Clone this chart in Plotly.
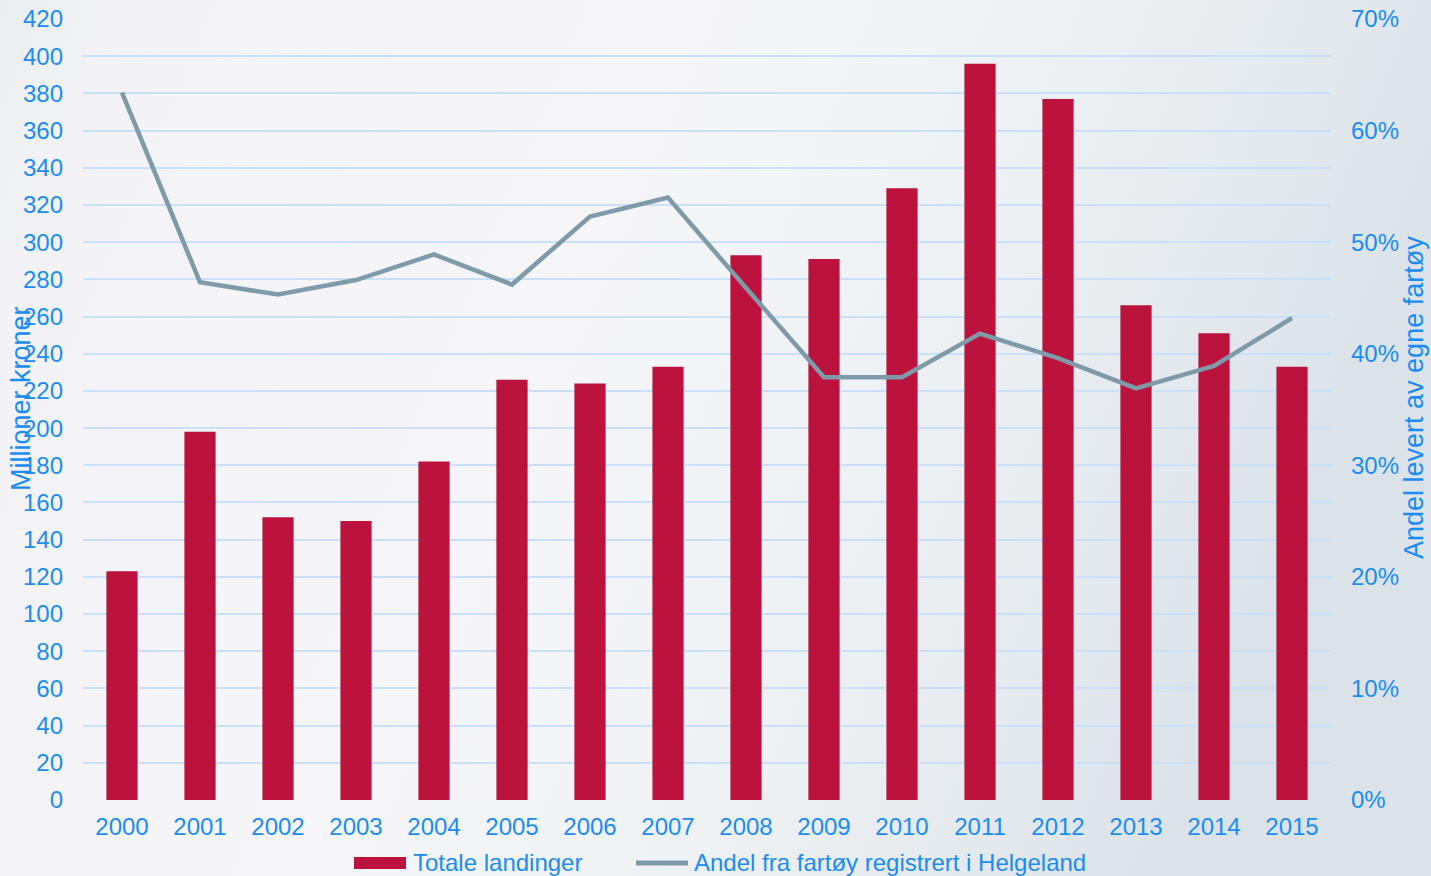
import base64
import plotly.graph_objects as go

years = [str(y) for y in range(2000, 2016)]
totale_landinger = [123, 198, 152, 150, 182, 226, 224, 233, 293, 291, 329, 396, 377, 266, 251, 233]
andel_helgeland = [63.4, 46.4, 45.3, 46.6, 48.9, 46.2, 52.3, 54.0, 45.9, 37.9, 37.9, 41.8, 39.6, 36.9, 38.9, 43.2]

left_ticks = list(range(0, 421, 20))
right_ticks = list(range(0, 71, 10))
right_labels = [f"{v}%" for v in right_ticks]

BLUE = "#1a8cf5"
BAR = "#bb133e"
LINE = "#7f9aa9"
GRID = "#c8e1f8"
FONT = "Liberation Sans, Arial, sans-serif"
FS = 24
TFS = 27

svg = """<svg xmlns='http://www.w3.org/2000/svg' width='1431' height='876' preserveAspectRatio='none'>
<defs><linearGradient id='g' x1='0' y1='0' x2='1' y2='0.25'>
<stop offset='0' stop-color='#eaeef0'/>
<stop offset='0.08' stop-color='#f3f3f7'/>
<stop offset='0.45' stop-color='#f6f6f9'/>
<stop offset='0.7' stop-color='#eef1f4'/>
<stop offset='0.85' stop-color='#e5eaee'/>
<stop offset='1' stop-color='#dbe3e9'/>
</linearGradient></defs>
<rect width='1431' height='876' fill='url(#g)'/></svg>"""
bg_src = "data:image/svg+xml;base64," + base64.b64encode(svg.encode()).decode()

fig = go.Figure()
fig.add_trace(go.Bar(
    x=years, y=totale_landinger, name="Totale landinger",
    marker=dict(color=BAR, line=dict(width=0)), width=0.4,
))
fig.add_trace(go.Scatter(
    x=years, y=andel_helgeland, name="Andel fra fartøy registrert i Helgeland",
    mode="lines", line=dict(color=LINE, width=4.5), yaxis="y2",
))

W, H = 1431, 876
ml, mr, mt, mb = 83, 100, 19, 76
pw, ph = W - ml - mr, H - mt - mb


def px(x):
    return (x - ml) / pw


def py(y):
    return (H - mb - y) / ph


legend_y = 862
shapes = [
    dict(type="rect", xref="paper", yref="paper", x0=px(354), x1=px(406), y0=py(869), y1=py(857),
         fillcolor=BAR, line=dict(width=0)),
    dict(type="line", xref="paper", yref="paper", x0=px(636), x1=px(688), y0=py(legend_y + 1), y1=py(legend_y + 1),
         line=dict(color=LINE, width=5)),
]

fig.update_layout(
    width=W, height=H,
    margin=dict(l=ml, r=mr, t=mt, b=mb, pad=0, autoexpand=False),
    paper_bgcolor="#f3f4f7",
    plot_bgcolor="rgba(0,0,0,0)",
    font=dict(family=FONT, size=FS, color=BLUE),
    showlegend=False,
    bargap=0.6,
    xaxis=dict(showgrid=False, zeroline=False, showline=False, ticks="", automargin=False,
               tickfont=dict(size=FS, color=BLUE), ticklabelstandoff=10),
    yaxis=dict(range=[0, 420], tickvals=left_ticks, showgrid=True, gridcolor=GRID, gridwidth=2,
               zeroline=False, showline=False, ticks="", automargin=False,
               tickfont=dict(size=FS, color=BLUE), ticklabelstandoff=19),
    yaxis2=dict(range=[0, 70], tickvals=right_ticks, ticktext=right_labels, overlaying="y", side="right",
                showgrid=False, zeroline=False, showline=False, ticks="", automargin=False,
                tickfont=dict(size=FS, color=BLUE), ticklabelstandoff=19),
    images=[dict(source=bg_src, xref="paper", yref="paper", x=-ml / pw, y=1 + mt / ph,
                 sizex=W / pw, sizey=H / ph, xanchor="left", yanchor="top",
                 sizing="stretch", layer="below")],
    shapes=shapes,
    annotations=[
        dict(text="Millioner kroner", textangle=-90, xref="paper", yref="paper",
             x=px(21), y=py(399), showarrow=False,
             xanchor="center", yanchor="middle", font=dict(size=TFS, color=BLUE)),
        dict(text="Andel levert av egne fartøy", textangle=-90, xref="paper", yref="paper",
             x=px(1414), y=py(398), showarrow=False,
             xanchor="center", yanchor="middle", font=dict(size=TFS, color=BLUE)),
        dict(text="Totale landinger", xref="paper", yref="paper", x=px(411), y=py(legend_y),
             showarrow=False, xanchor="left", yanchor="middle", font=dict(size=FS, color=BLUE)),
        dict(text="Andel fra fartøy registrert i Helgeland", xref="paper", yref="paper", x=px(692), y=py(legend_y),
             showarrow=False, xanchor="left", yanchor="middle", font=dict(size=FS, color=BLUE)),
    ],
)

fig.write_html("out.html", config={"displayModeBar": False},
               post_script="document.body.style.margin='0';document.body.style.overflow='hidden';")
